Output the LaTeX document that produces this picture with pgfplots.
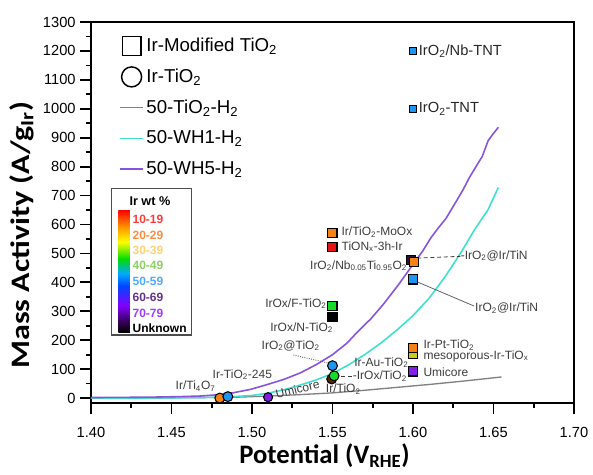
\documentclass[border=0pt]{standalone}
\usepackage{fontspec}
\setmainfont{Liberation Sans}
\newfontfamily\labelfont{Carlito}
\usepackage{graphicx}
\usepackage{pgfplots}
\pgfplotsset{compat=1.18}

\definecolor{mblue}{RGB}{30,150,240}
\definecolor{morange}{RGB}{245,130,20}
\definecolor{mred}{RGB}{230,20,20}
\definecolor{mgreen}{RGB}{20,220,40}
\definecolor{mpurple}{RGB}{130,30,230}
\definecolor{molive}{RGB}{200,200,30}
\definecolor{mdark}{RGB}{45,15,60}
\definecolor{mbrown}{RGB}{90,35,0}
\definecolor{lcyan}{RGB}{64,224,208}
\definecolor{lpurple}{RGB}{135,85,220}
\definecolor{lgray}{RGB}{128,128,128}
\definecolor{anntext}{RGB}{60,60,60}
% colour bar colours
\definecolor{cbdpurple}{RGB}{50,0,80}
\definecolor{cbpurple}{RGB}{130,0,255}
\definecolor{cbblue}{RGB}{0,70,255}
\definecolor{cbcyan}{RGB}{0,170,255}
\definecolor{cbgreen}{RGB}{0,220,0}
\definecolor{cbyellow}{RGB}{255,255,0}
\definecolor{cborange}{RGB}{255,140,0}
\definecolor{cbred}{RGB}{255,0,0}
% label colours
\definecolor{t1}{RGB}{255,60,60}
\definecolor{t2}{RGB}{255,140,60}
\definecolor{t3}{RGB}{255,210,120}
\definecolor{t4}{RGB}{140,210,100}
\definecolor{t5}{RGB}{80,170,255}
\definecolor{t6}{RGB}{100,50,140}
\definecolor{t7}{RGB}{160,60,255}

\pgfdeclareverticalshading{irwt}{100bp}{color(0bp)=(black); color(25bp)=(black); color(29bp)=(cbdpurple); color(36bp)=(cbpurple); color(44bp)=(cbblue); color(49bp)=(cbcyan); color(55bp)=(cbgreen); color(62bp)=(cbyellow); color(68.5bp)=(cborange); color(75bp)=(cbred); color(100bp)=(cbred)}

\begin{document}
\begin{tikzpicture}
\begin{axis}[
  scale only axis, width=362.25pt, height=285.75pt,
  xmin=1.40, xmax=1.70, ymin=-17, ymax=1300,
  xtick={1.40,1.45,1.50,1.55,1.60,1.65,1.70},
  ytick={0,100,200,300,400,500,600,700,800,900,1000,1100,1200,1300},
  minor x tick num=1, minor y tick num=1,
  tick align=outside, tick pos=left,
  major tick length=8pt, minor tick length=4pt,
  axis line style={line width=1.6pt},
  every tick/.style={line width=1.3pt, black},
  tick label style={font=\fontsize{11}{13}\selectfont},
  /pgf/number format/assume math mode=true,
  xticklabel style={yshift=-7pt, /pgf/number format/.cd, fixed, fixed zerofill, precision=2},
  yticklabel style={/pgf/number format/.cd, 1000 sep={}},
  xlabel={Potential (V\textsubscript{RHE})},
  ylabel={\scalebox{1.2}[1]{Mass Activity (A/g\textsubscript{Ir})}},
  label style={font=\labelfont\bfseries\fontsize{20}{22}\selectfont},
  xlabel style={yshift=3pt, xshift=-6pt},
  ylabel style={at={(ticklabel cs:0.44)}, yshift=0pt},
  legend style={at={(0.05,0.972)}, anchor=north west, draw=none, fill=none,
    font=\fontsize{14}{16}\selectfont, row sep=7.5pt, legend cell align=left},
]
\addlegendimage{only marks, mark=square, mark size=7pt, mark options={line width=1.1pt, draw=black}}
\addlegendentry{Ir-Modified TiO\textsubscript{2}}
\addlegendimage{only marks, mark=o, mark size=7.5pt, mark options={line width=1.1pt, draw=black}}
\addlegendentry{Ir-TiO\textsubscript{2}}

% curves
\addplot[lgray, line width=1pt] coordinates {
(1.40,0) (1.46,1) (1.49,3) (1.51,7) (1.53,12) (1.55,18) (1.57,27) (1.59,37) (1.61,47) (1.63,58) (1.655,73)};
\addlegendentry{50-TiO\textsubscript{2}-H\textsubscript{2}}
\addplot[lcyan, line width=1.2pt] coordinates {
(1.40,0) (1.44,0.5) (1.47,2) (1.485,4) (1.50,9) (1.51,17) (1.52,29) (1.53,45) (1.54,63) (1.55,85) (1.56,115) (1.57,150) (1.58,190) (1.59,235) (1.60,285) (1.61,345) (1.62,420) (1.63,505) (1.638,580) (1.6467,652) (1.653,728)};
\addlegendentry{50-WH1-H\textsubscript{2}}
\addplot[lpurple, line width=1.2pt] coordinates {
(1.40,2) (1.42,2.5) (1.44,3.5) (1.455,5) (1.4675,7) (1.478,11) (1.488,18) (1.499,30) (1.509,46) (1.52,65) (1.53,87) (1.54,116) (1.55,150) (1.559,190) (1.5654,228) (1.574,275) (1.582,327) (1.591,392) (1.60,462) (1.606,508) (1.611,553) (1.616,590) (1.6206,622) (1.626,672) (1.631,719) (1.635,762) (1.640,808) (1.643,835) (1.6467,890) (1.650,915) (1.653,936)};
\addlegendentry{50-WH5-H\textsubscript{2}}

% squares (Ir-Modified TiO2)
\addplot[forget plot, only marks, mark=square*, mark size=2.7pt, mark options={fill=mblue, draw=black, line width=0.8pt}] coordinates {(1.60,1200) (1.60,1000)};
\addplot[forget plot, only marks, mark=square*, mark size=3.4pt, mark options={fill=mblue, draw=black, line width=0.8pt}] coordinates {(1.60,410)};
\addplot[forget plot, only marks, mark=square*, mark size=3.4pt, mark options={fill=mdark, draw=black, line width=0.8pt}] coordinates {(1.5985,476)};
\addplot[forget plot, only marks, mark=square*, mark size=3.4pt, mark options={fill=morange, draw=black, line width=0.8pt}] coordinates {(1.55,572) (1.6005,469)};
\addplot[forget plot, only marks, mark=square*, mark size=3.4pt, mark options={fill=mred, draw=black, line width=0.8pt}] coordinates {(1.55,522)};
\addplot[forget plot, only marks, mark=square*, mark size=3.4pt, mark options={fill=mgreen, draw=black, line width=0.8pt}] coordinates {(1.55,318)};
\addplot[forget plot, only marks, mark=square*, mark size=3.4pt, mark options={fill=black, draw=black, line width=0.8pt}] coordinates {(1.55,279)};
\addplot[forget plot, only marks, mark=square*, mark size=3.4pt, mark options={fill=molive, draw=black, line width=0.8pt}] coordinates {(1.60,152)};
\addplot[forget plot, only marks, mark=square*, mark size=3.4pt, mark options={fill=morange, draw=black, line width=0.8pt}] coordinates {(1.60,172)};
\addplot[forget plot, only marks, mark=square*, mark size=3.4pt, mark options={fill=mpurple, draw=black, line width=0.8pt}] coordinates {(1.60,92)};

% circles (Ir-TiO2)
\addplot[forget plot, only marks, mark=*, mark size=3.7pt, mark options={fill=morange, draw=black, line width=0.8pt}] coordinates {(1.48,0)};
\addplot[forget plot, only marks, mark=*, mark size=3.7pt, mark options={fill=mblue, draw=black, line width=0.8pt}] coordinates {(1.485,5)};
\addplot[forget plot, only marks, mark=*, mark size=3.4pt, mark options={fill=mpurple, draw=black, line width=0.8pt}] coordinates {(1.51,3)};
\addplot[forget plot, only marks, mark=*, mark size=3.7pt, mark options={fill=mblue, draw=black, line width=0.8pt}] coordinates {(1.55,112)};
\addplot[forget plot, only marks, mark=*, mark size=3.7pt, mark options={fill=mbrown, draw=black, line width=0.8pt}] coordinates {(1.5495,66)};
\addplot[forget plot, only marks, mark=*, mark size=3.7pt, mark options={fill=mgreen, draw=black, line width=0.8pt}] coordinates {(1.551,77)};

% annotation lines
\draw[anntext, densely dashed, line width=0.6pt] (axis cs:1.6025,484) -- (axis cs:1.6295,490);
\draw[anntext!80, line width=0.6pt] (axis cs:1.6025,402) -- (axis cs:1.638,318);
\draw[anntext!80, densely dotted, line width=0.7pt] (axis cs:1.5257,149) -- (axis cs:1.5475,121);
\draw[anntext, densely dashed, line width=0.6pt] (axis cs:1.5555,76) -- (axis cs:1.5625,76);

% annotation labels
\begin{scope}[every node/.style={inner sep=0pt, text=anntext, font=\fontsize{9}{10}\selectfont}]
\node[anchor=west, font=\fontsize{11}{12}\selectfont, text=black!85] at (axis cs:1.6035,1200) {IrO\textsubscript{2}/Nb-TNT};
\node[anchor=west, font=\fontsize{11}{12}\selectfont, text=black!85] at (axis cs:1.6035,1000) {IrO\textsubscript{2}-TNT};
\node[anchor=west] at (axis cs:1.5555,574) {Ir/TiO\textsubscript{2}-MoOx};
\node[anchor=west] at (axis cs:1.5555,524) {TiON\textsubscript{x}-3h-Ir};
\node[anchor=east] at (axis cs:1.5965,457) {IrO\textsubscript{2}/Nb\textsubscript{0.05}Ti\textsubscript{0.95}O\textsubscript{2}};
\node[anchor=west] at (axis cs:1.6295,492) {-IrO\textsubscript{2}@Ir/TiN};
\node[anchor=west] at (axis cs:1.6385,310) {IrO\textsubscript{2}@Ir/TiN};
\node[anchor=east] at (axis cs:1.5465,326) {IrOx/F-TiO\textsubscript{2}};
\node[anchor=east] at (axis cs:1.5505,243) {IrOx/N-TiO\textsubscript{2}};
\node[anchor=east] at (axis cs:1.5422,180) {IrO\textsubscript{2}@TiO\textsubscript{2}};
\node[anchor=east] at (axis cs:1.5973,123) {Ir-Au-TiO\textsubscript{2}};
\node[anchor=west] at (axis cs:1.5625,76) {-IrOx/TiO\textsubscript{2}};
\node at (axis cs:1.5567,31) {Ir/TiO\textsubscript{2}};
\node[anchor=west] at (axis cs:1.6064,183) {Ir-Pt-TiO\textsubscript{2}};
\node[anchor=west] at (axis cs:1.6064,144) {mesoporous-Ir-TiO\textsubscript{x}};
\node[anchor=west] at (axis cs:1.6064,89) {Umicore};
\node[anchor=east] at (axis cs:1.4775,41) {Ir/Ti\textsubscript{4}O\textsubscript{7}};
\node at (axis cs:1.494,81) {Ir-TiO\textsubscript{2}-245};
\node[rotate=14] at (axis cs:1.5283,31) {Umicore};
\end{scope}

% Ir wt % colour key
\draw[black!70, line width=1pt] (axis cs:1.4129,725) rectangle (axis cs:1.4625,218);
\shade[shading=irwt] (axis cs:1.4170,650) rectangle (axis cs:1.4242,228);
\node[font=\bfseries\fontsize{9.5}{10}\selectfont, inner sep=0pt] at (axis cs:1.4366,682) {Ir wt \%};
\begin{scope}[every node/.style={anchor=west, inner sep=0pt, font=\bfseries\fontsize{9}{10}\selectfont}]
\node[text=t1] at (axis cs:1.4257,618) {10-19};
\node[text=t2] at (axis cs:1.4257,564) {20-29};
\node[text=t3] at (axis cs:1.4257,512) {30-39};
\node[text=t4] at (axis cs:1.4257,458) {40-49};
\node[text=t5] at (axis cs:1.4257,404) {50-59};
\node[text=t6] at (axis cs:1.4257,349) {60-69};
\node[text=t7] at (axis cs:1.4257,293) {70-79};
\node[text=black] at (axis cs:1.4257,242) {Unknown};
\end{scope}
\end{axis}
\pgfresetboundingbox
\path[use as bounding box] (-68.25pt,-54pt) rectangle (376.5pt,302.25pt);
\end{tikzpicture}
\end{document}
